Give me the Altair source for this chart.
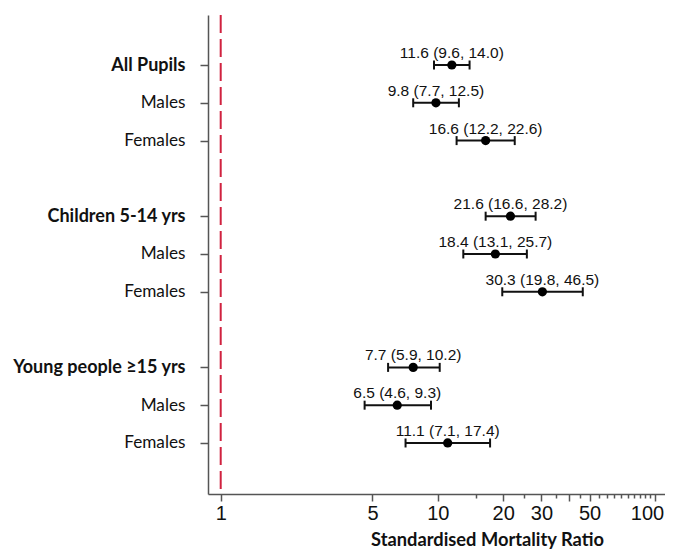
import json
import altair as alt
import pandas as pd

labels = ["All Pupils", "Males", "Females",
          "Children 5-14 yrs", "Males", "Females",
          "Young people \u226515 yrs", "Males", "Females"]
is_header = [True, False, False, True, False, False, True, False, False]
smr = [11.6, 9.8, 16.6, 21.6, 18.4, 30.3, 7.7, 6.5, 11.1]
lower = [9.6, 7.7, 12.2, 16.6, 13.1, 19.8, 5.9, 4.6, 7.1]
upper = [14.0, 12.5, 22.6, 28.2, 25.7, 46.5, 10.2, 9.3, 17.4]

major_ticks = [1, 5, 10, 20, 30, 40, 50, 100]
major_labels = ["1", "5", "10", "20", "30", "", "50", "100"]
minor_ticks = [15, 25, 35, 45, 55, 60, 65, 70, 75, 80, 85, 90, 95]
reference = [1]

rows = [i + i // 3 for i in range(len(labels))]
texts = [f"{s:.1f} ({l:.1f}, {u:.1f})" for s, l, u in zip(smr, lower, upper)]
df = pd.DataFrame({"label": labels, "row": rows, "smr": smr,
                   "lower": lower, "upper": upper, "text": texts})

ylab = {str(r): l for r, l in zip(rows, labels)}
y_label_expr = json.dumps(ylab, ensure_ascii=False) + "[datum.value + '']"
header_rows = [r for r, h in zip(rows, is_header) if h]
bold_test = " || ".join(f"datum.value == {r}" for r in header_rows)
xlab = {str(v): l for v, l in zip(major_ticks, major_labels)}
x_label_expr = json.dumps(xlab) + "[datum.value + '']"

W, H = 457, 479
xscale = alt.Scale(type="log", domain=[0.874, 111.2], nice=False)
yscale = alt.Scale(domain=[-1.323, 11.35], reverse=True, nice=False, zero=False)

GRAY = "#555555"
INK = "#111111"
NUMFONT = "Liberation Sans"

x_main_axis = alt.Axis(
    values=major_ticks, labelExpr=x_label_expr, orient="bottom",
    tickSize=7, tickColor=GRAY, tickWidth=1.5, domainColor=GRAY, domainWidth=1.5,
    grid=False, labelFont=NUMFONT, labelFontSize=20, labelColor=INK,
    labelPadding=2, labelFlush=False, labelOverlap=False,
    labelOffset={"condition": {"test": f"datum.value == {major_ticks[-1]}", "value": -8}, "value": 0},
    title="Standardised Mortality Ratio", titleFont="Lato", titleFontSize=18.3,
    titleFontWeight="bold", titleColor=INK, titleX=279, titleY=51,
    titleAlign="center", titleBaseline="alphabetic")

x_minor_axis = alt.Axis(
    values=minor_ticks, orient="bottom", labels=False, domain=False,
    tickSize=4, tickColor=GRAY, tickWidth=1.5, grid=False, title="")

y_axis = alt.Axis(
    values=rows, labelExpr=y_label_expr,
    labelFontWeight={"condition": {"test": bold_test, "value": "bold"}, "value": "normal"},
    labelFontSize={"condition": {"test": bold_test, "value": 18}, "value": 17.2},
    labelFont="Lato", labelColor=INK, labelPadding=15,
    tickSize=8, tickColor=GRAY, tickWidth=1.5, domainColor=GRAY, domainWidth=1.5,
    grid=False, title="")

base = alt.Chart(df)
Y = alt.Y("row:Q", scale=yscale, axis=y_axis)

ref_line = alt.Chart(pd.DataFrame({"ref": reference})).mark_rule(
    color="#D0223F", strokeWidth=2, strokeDash=[18, 6]
).encode(
    x=alt.X("ref:Q", scale=xscale, axis=None),
    y=alt.value(0), y2=alt.value(H)
)

bars = base.mark_rule(color=INK, strokeWidth=2).encode(
    x=alt.X("lower:Q", scale=xscale, axis=None),
    x2="upper:Q",
    y=Y
)

caps = base.transform_fold(["lower", "upper"], as_=["end", "val"]).mark_tick(
    orient="vertical", size=9, thickness=2, color=INK, opacity=1
).encode(
    x=alt.X("val:Q", scale=xscale, axis=x_minor_axis),
    y=Y
)

points = base.mark_circle(size=85, color="black", opacity=1).encode(
    x=alt.X("smr:Q", scale=xscale, axis=x_main_axis),
    y=Y
)

text = base.mark_text(font=NUMFONT, fontSize=15.5, color=INK,
                      baseline="alphabetic", align="center", dy=-7).encode(
    x=alt.X("smr:Q", scale=xscale, axis=None),
    y=Y,
    text="text:N"
)

chart = alt.layer(ref_line, bars, caps, points, text).resolve_axis(
    x="independent"
).properties(
    width=W, height=H,
    padding={"left": 200, "top": 7, "right": 0, "bottom": 55},
    autosize=alt.AutoSizeParams(type="none"),
).configure_view(stroke=None)

chart.save("out.html", embed_options={"renderer": "svg", "actions": False})
